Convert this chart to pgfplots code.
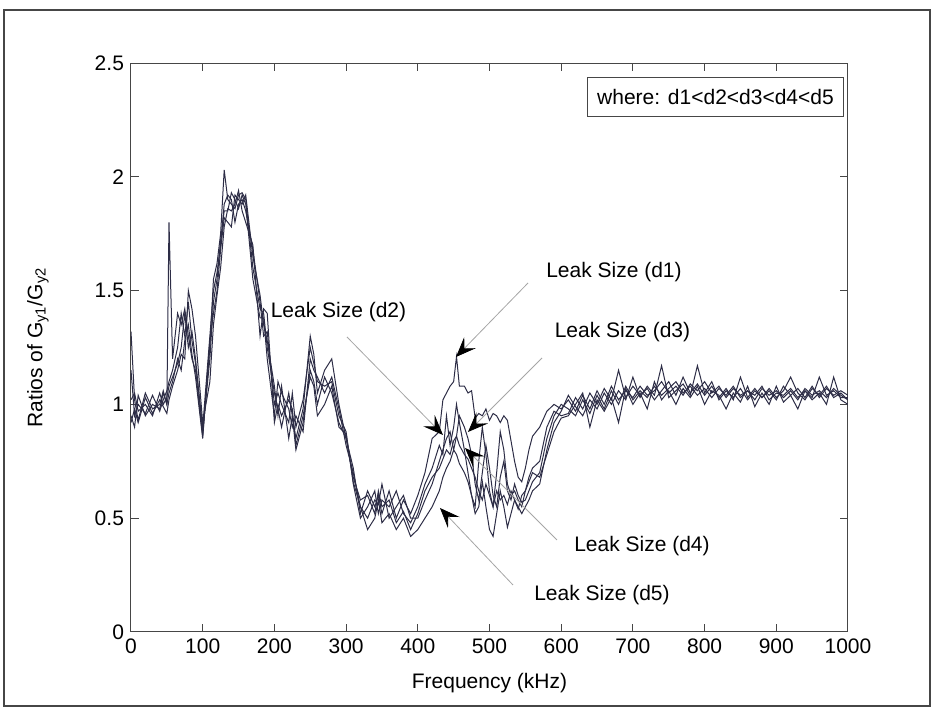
\documentclass[border=0pt]{standalone}
\usepackage{fontspec}
\setmainfont{Liberation Sans}
\usepackage{pgfplots}
\usepackage{pgfplotstable}
\pgfplotsset{compat=1.18}
\usetikzlibrary{arrows.meta}

\definecolor{curve}{RGB}{45,45,70}
\definecolor{frame}{RGB}{70,70,70}

% ratios G_y1/G_y2 for the five leak sizes
\pgfplotstableread{
f    d1   d2   d3   d4   d5
0    1.32 1.15 1.02 0.95 0.92
5    1.02 0.95 1.05 0.90 0.98
10   0.93 1.00 0.97 1.04 0.92
20   1.05 0.96 1.00 0.95 1.03
30   0.98 1.04 0.95 1.00 0.96
40   1.00 0.97 1.05 0.98 1.02
45   1.06 1.02 1.00 1.05 0.99
50   1.00 1.06 1.03 1.00 0.96
53   1.80 1.10 1.08 1.05 1.02
58   1.20 1.15 1.12 1.10 1.08
65   1.40 1.25 1.18 1.20 1.15
70   1.35 1.40 1.25 1.15 1.22
75   1.42 1.30 1.40 1.28 1.20
80   1.30 1.45 1.25 1.35 1.50
85   1.20 1.28 1.32 1.22 1.42
90   1.15 1.18 1.20 1.12 1.30
100  0.86 0.90 0.88 0.85 0.92
110  1.25 1.30 1.20 1.28 1.10
115  1.55 1.50 1.45 1.40 1.35
120  1.62 1.58 1.55 1.50 1.48
125  1.75 1.70 1.72 1.68 1.60
130  2.03 1.88 1.85 1.82 1.78
135  1.90 1.92 1.85 1.80 1.86
140  1.88 1.90 1.93 1.78 1.85
145  1.86 1.80 1.90 1.92 1.88
150  1.92 1.88 1.86 1.90 1.94
155  1.93 1.90 1.92 1.88 1.85
160  1.90 1.85 1.88 1.92 1.80
170  1.60 1.68 1.55 1.65 1.70
180  1.42 1.45 1.38 1.48 1.30
185  1.40 1.30 1.38 1.35 1.42
190  1.25 1.32 1.20 1.28 1.40
200  1.05 1.00 0.95 1.08 0.92
205  0.98 1.05 1.10 0.95 1.00
210  0.90 1.00 1.05 1.08 0.95
220  1.05 0.92 0.98 0.85 1.02
225  0.95 1.05 0.90 0.95 0.98
230  0.85 0.90 0.95 0.80 0.82
240  0.98 1.02 0.88 0.92 0.95
250  1.30 1.25 1.20 1.15 1.12
255  1.22 1.18 1.15 1.10 1.08
260  1.05 1.10 1.12 1.00 0.95
270  1.15 1.08 1.05 1.12 1.00
280  1.20 1.10 1.12 1.05 1.08
290  1.00 0.95 0.98 0.92 0.90
300  0.85 0.88 0.82 0.85 0.87
310  0.72 0.65 0.70 0.68 0.66
320  0.52 0.50 0.55 0.58 0.55
330  0.62 0.55 0.50 0.60 0.45
340  0.55 0.62 0.58 0.52 0.50
345  0.60 0.52 0.56 0.62 0.58
350  0.52 0.58 0.65 0.55 0.48
360  0.62 0.55 0.50 0.58 0.52
370  0.50 0.62 0.55 0.48 0.45
380  0.58 0.52 0.60 0.53 0.50
390  0.52 0.48 0.50 0.45 0.42
400  0.60 0.55 0.50 0.52 0.45
410  0.70 0.65 0.58 0.62 0.50
420  0.85 0.72 0.65 0.68 0.55
430  0.88 0.82 0.75 0.72 0.62
435  1.02 0.78 0.80 0.76 0.68
440  1.05 0.95 0.85 0.80 0.72
445  1.08 0.82 0.88 0.78 0.75
450  1.10 0.90 0.80 0.84 0.80
454  1.21 1.00 0.86 0.86 0.78
458  1.08 0.92 0.95 0.82 0.74
465  1.08 0.80 0.90 0.78 0.70
470  1.05 0.70 0.85 0.76 0.66
475  1.06 0.60 0.78 0.72 0.60
480  0.94 0.55 0.65 0.68 0.52
485  0.96 0.75 0.58 0.62 0.55
490  0.95 0.90 0.70 0.58 0.66
495  0.98 0.78 0.82 0.65 0.55
500  0.93 0.62 0.72 0.60 0.45
505  0.96 0.55 0.60 0.55 0.42
510  0.95 0.70 0.55 0.62 0.52
515  0.92 0.88 0.68 0.58 0.62
520  0.95 0.80 0.75 0.60 0.55
525  0.93 0.65 0.62 0.56 0.46
530  0.84 0.60 0.58 0.62 0.52
535  0.75 0.62 0.65 0.58 0.58
540  0.68 0.58 0.60 0.55 0.54
545  0.66 0.55 0.57 0.52 0.60
550  0.72 0.62 0.58 0.55 0.62
555  0.80 0.68 0.62 0.58 0.66
560  0.86 0.72 0.66 0.62 0.70
570  0.90 0.75 0.70 0.65 0.68
580  0.97 0.90 0.85 0.80 0.78
590  1.00 0.97 0.95 0.92 0.88
600  0.98 0.95 1.00 0.97 0.94
610  1.02 0.96 0.98 1.04 0.95
620  0.97 1.03 0.95 0.99 1.00
630  1.04 0.98 1.02 0.95 1.05
640  0.98 1.05 0.96 1.02 0.90
650  1.06 1.00 1.04 0.98 1.02
660  1.00 1.07 0.98 1.05 0.97
670  1.08 1.02 1.06 1.00 1.03
680  1.02 1.15 1.00 1.06 0.92
690  1.06 1.03 1.08 1.02 1.07
700  1.03 1.08 1.02 1.12 1.00
710  1.08 1.04 1.06 1.03 1.05
720  1.04 1.07 1.03 1.08 0.98
730  1.06 1.02 1.08 1.04 1.10
740  1.10 1.06 1.04 1.17 1.02
750  1.05 1.10 1.07 1.03 1.06
760  1.08 1.04 1.10 1.06 1.00
770  1.04 1.12 1.05 1.09 1.07
780  1.09 1.05 1.08 1.04 1.03
790  1.06 1.09 1.04 1.17 1.08
800  1.10 1.04 1.07 1.05 1.00
810  1.05 1.08 1.03 1.10 1.06
820  1.08 1.03 1.07 1.02 1.04
830  1.03 1.07 1.04 1.06 0.98
840  1.07 1.02 1.08 1.03 1.05
850  1.04 1.12 1.03 1.07 1.01
860  1.06 1.03 1.06 1.02 1.08
870  1.02 1.07 1.04 1.06 0.99
880  1.07 1.03 1.08 1.03 1.05
890  1.04 1.06 1.02 1.07 1.00
900  1.06 1.02 1.05 1.03 1.08
910  1.03 1.08 1.04 1.06 1.01
920  1.06 1.04 1.07 1.12 1.04
930  1.02 1.07 1.03 1.05 0.98
940  1.07 1.03 1.06 1.02 1.06
950  1.04 1.08 1.03 1.07 1.02
960  1.06 1.03 1.12 1.04 1.05
970  1.03 1.07 1.04 1.08 1.00
980  1.07 1.04 1.06 1.03 1.12
990  1.04 1.06 1.03 1.05 1.02
1000 1.02 1.04 1.03 1.02 1.00
}\ratios

\begin{document}
\begin{tikzpicture}[font=\fontsize{10.5}{12}\selectfont,
  lk/.style={curve, line width=0.5pt},
  leak/.style={gray!70, line width=0.4pt,
    -{Stealth[length=10pt, width=8pt, inset=4pt, color=black]}}]
\useasboundingbox (-65.5pt,-40pt) rectangle (401.5pt,316pt);
\draw[frame, line width=0.8pt] (-63.5pt,-37pt) rectangle (399.5pt,311pt);

\begin{axis}[
  at={(0pt,0pt)}, anchor=south west,
  scale only axis, width=358.5pt, height=284.5pt,
  xmin=0, xmax=1000, ymin=0, ymax=2.5,
  xtick={0,100,200,300,400,500,600,700,800,900,1000},
  ytick={0,0.5,1,1.5,2,2.5},
  tick align=inside, major tick length=4pt,
  axis line style={frame, line width=0.5pt},
  tick style={frame, line width=0.5pt},
  /pgf/number format/assume math mode=true,
  /pgf/number format/1000 sep={},
  ticklabel style={font=\fontsize{10.5}{12}\selectfont},
  xlabel={Frequency (kHz)},
  ylabel={Ratios of G\textsubscript{y1}/G\textsubscript{y2}},
  xlabel style={at={(axis description cs:0.5,-0.0896)}, anchor=center},
  ylabel style={at={(axis description cs:-0.1297,0.5)}, anchor=center},
]
\addplot[lk] table[x=f, y=d1] {\ratios};
\addplot[lk] table[x=f, y=d2] {\ratios};
\addplot[lk] table[x=f, y=d3] {\ratios};
\addplot[lk] table[x=f, y=d4] {\ratios};
\addplot[lk] table[x=f, y=d5] {\ratios};
\end{axis}

% legend-like note
\node[draw=frame, line width=0.5pt, minimum width=127.5pt, minimum height=19.5pt,
  inner sep=0pt] at (292.25pt,267.25pt) {where: d1<d2<d3<d4<d5};

% leak size labels and arrows
\node at (241.5pt,180pt) {Leak Size (d1)};
\node at (103.75pt,160pt) {Leak Size (d2)};
\node at (245.75pt,150pt) {Leak Size (d3)};
\node at (255.5pt,43pt) {Leak Size (d4)};
\node at (235.5pt,18.5pt) {Leak Size (d5)};

\draw[leak] (198.5pt,174.5pt) -- (162.5pt,137.5pt);
\draw[leak] (108pt,147.5pt) -- (156pt,98.5pt);
\draw[leak] (205.5pt,137pt) -- (168.5pt,100pt);
\draw[leak] (213pt,46pt) -- (167pt,92pt);
\draw[leak] (191pt,23.5pt) -- (154.5pt,62pt);
\end{tikzpicture}
\end{document}
